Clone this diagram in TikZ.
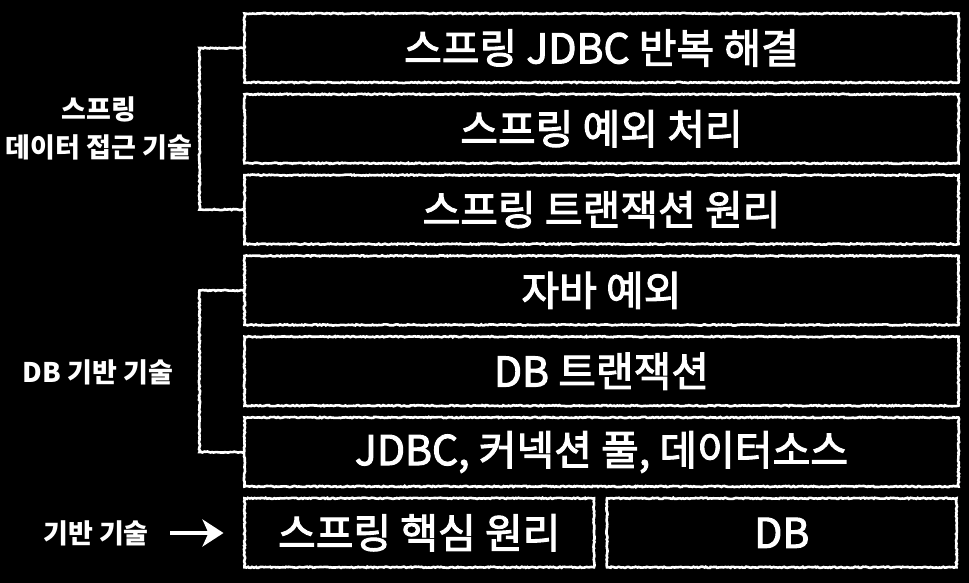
\documentclass[tikz,border=0pt]{standalone}
\usepackage{fontspec}
\setmainfont{Noto Sans CJK KR}
\usetikzlibrary{positioning}
\usetikzlibrary{arrows.meta}
\usetikzlibrary{decorations.pathmorphing}

\begin{document}
\begin{tikzpicture}[
x=1pt, y=-1pt,
chalk/.style={
draw=white,
line width=2.6pt,
decorate,
decoration={random steps,segment length=1.6pt,amplitude=0.6pt}},
layer/.style={
chalk,
rectangle,
outer sep=0pt,
inner sep=0pt,
minimum width=714pt,
minimum height=69pt,
text=white,
font=\fontsize{41}{44}\selectfont\addfontfeature{FakeBold=2.5}},
half/.style={layer, minimum width=349.5pt},
tag/.style={text=white, align=center, font=\bfseries\fontsize{27}{38}\selectfont},
bracket/.style={chalk},
myarrow/.style={draw=white, line width=3.5pt, -{Stealth[length=21pt,width=27pt,inset=6pt]}},
node distance=11.8pt and 13pt
]
\fill[black] (0,0) rectangle (969,583);
\useasboundingbox (0,0) rectangle (969,583);

\node[layer] (b1) at (601.5,48) {스프링 JDBC 반복 해결};
\node[layer,below=of b1] (b2) {스프링 예외 처리};
\node[layer,below=of b2] (b3) {스프링 트랜잭션 원리};
\node[layer,below=of b3] (b4) {자바 예외};
\node[layer,below=of b4] (b5) {DB 트랜잭션};
\node[layer,below=of b5] (b6) {JDBC, 커넥션 풀, 데이터소스};
\node[half,below right=11.8pt and 0pt of b6.south west] (core) {스프링 핵심 원리};
\node[half,right=of core] (db) {DB};

% groups on the left
\node[tag] (access) at (99,128) {스프링\\데이터 접근 기술};
\node[tag] (dbbase) at (98,372) {DB 기반 기술};
\node[tag] (basis) at (96,533) {기반 기술};

\foreach \i/\j in {b1/b3, b4/b6}
  \draw[bracket] (\i.west) -- ++(-45,0) |- (\j.west);
\draw[myarrow, shorten <=18pt, shorten >=21pt] (basis.east) -- (core.west |- basis.east);
\end{tikzpicture}
\end{document}
